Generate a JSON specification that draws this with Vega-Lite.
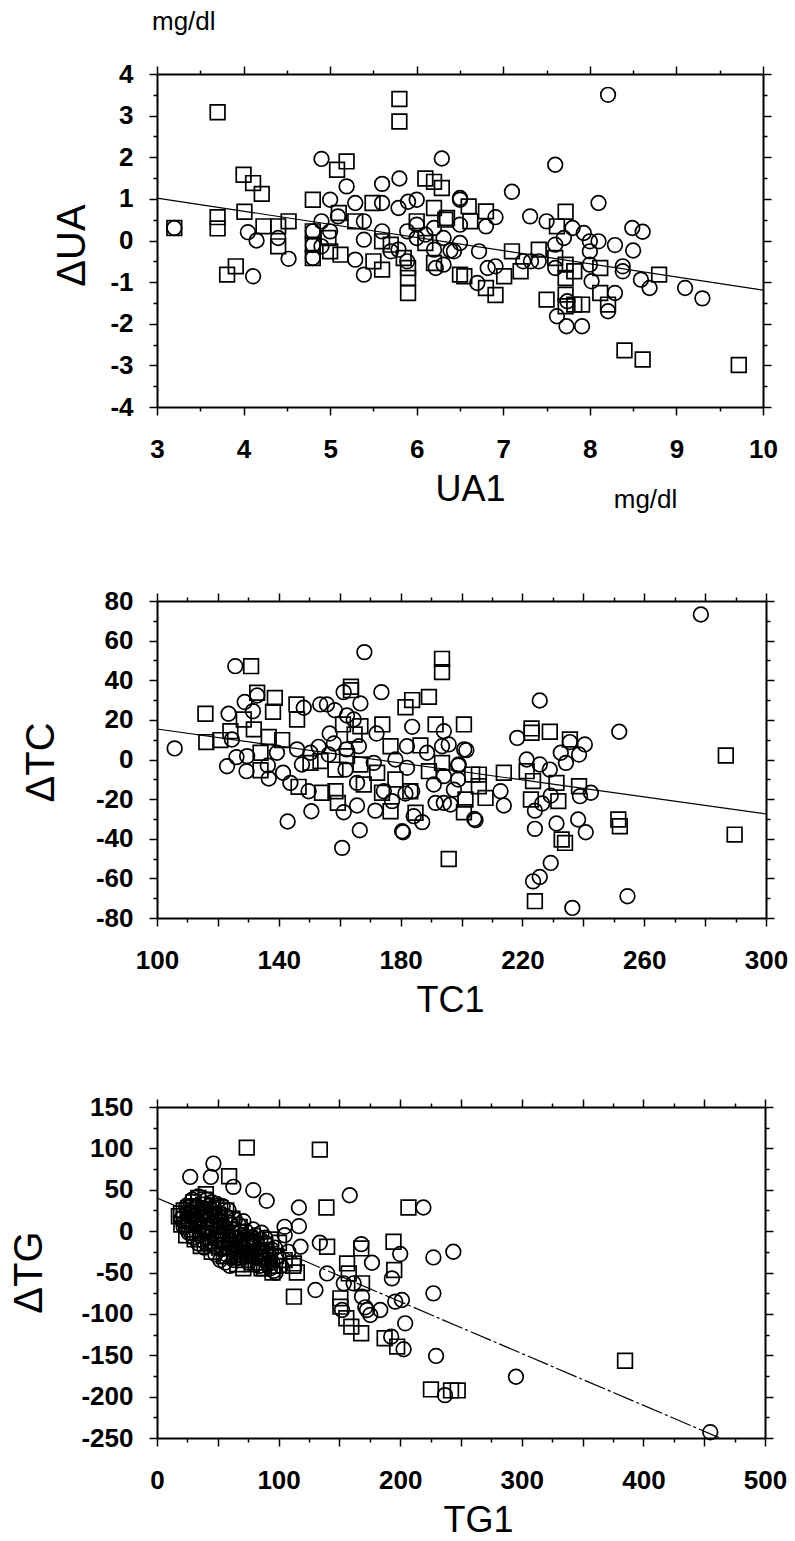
{
"$schema": "https://vega.github.io/schema/vega-lite/v6.json",
"padding": {"left": 9, "top": 9, "right": 5, "bottom": 5},
"columns": 1,
"spacing": 76,
"config": {"view": {"stroke": null}, "font": "Liberation Sans",
 "axis": {"grid": false, "domainColor": "black", "tickColor": "black", "labelColor": "black", "titleColor": "black", "domainWidth": 2, "tickWidth": 1.5, "labelFont": "Liberation Sans", "labelFontWeight": "bold", "labelFontSize": 26, "titleFont": "Liberation Sans", "titleFontWeight": "normal", "labelOverlap": false, "labelFlush": false}},
"datasets": {
 "ua": [
  {"x":3.2,"y":0.3,"g":"c"},{"x":4.9,"y":1.96,"g":"c"},{"x":6.29,"y":1.97,"g":"c"},{"x":5.19,"y":1.3,"g":"c"},{"x":5.6,"y":1.36,"g":"c"},{"x":5.8,"y":1.49,"g":"c"},{"x":5.0,"y":0.98,"g":"c"},{"x":5.29,"y":0.9,"g":"c"},{"x":5.6,"y":0.9,"g":"c"},{"x":5.79,"y":0.78,"g":"c"},{"x":5.9,"y":0.93,"g":"c"},{"x":6.0,"y":0.98,"g":"c"},{"x":4.9,"y":0.46,"g":"c"},{"x":5.09,"y":0.58,"g":"c"},{"x":5.39,"y":0.46,"g":"c"},{"x":6.5,"y":0.98,"g":"c"},{"x":4.05,"y":0.2,"g":"c"},{"x":4.15,"y":0.0,"g":"c"},{"x":4.4,"y":0.06,"g":"c"},{"x":4.52,"y":-0.44,"g":"c"},{"x":4.8,"y":0.22,"g":"c"},{"x":4.8,"y":-0.11,"g":"c"},{"x":4.8,"y":-0.42,"g":"c"},{"x":5.0,"y":0.22,"g":"c"},{"x":4.9,"y":-0.14,"g":"c"},{"x":5.29,"y":-0.46,"g":"c"},{"x":5.39,"y":0.02,"g":"c"},{"x":5.39,"y":-0.82,"g":"c"},{"x":5.6,"y":0.22,"g":"c"},{"x":5.7,"y":-0.26,"g":"c"},{"x":5.79,"y":-0.22,"g":"c"},{"x":5.89,"y":0.22,"g":"c"},{"x":6.0,"y":0.38,"g":"c"},{"x":6.0,"y":0.06,"g":"c"},{"x":5.89,"y":-0.5,"g":"c"},{"x":6.1,"y":0.14,"g":"c"},{"x":6.2,"y":0.3,"g":"c"},{"x":6.2,"y":-0.22,"g":"c"},{"x":6.22,"y":-0.66,"g":"c"},{"x":6.31,"y":0.06,"g":"c"},{"x":6.31,"y":-0.58,"g":"c"},{"x":6.43,"y":-0.26,"g":"c"},{"x":4.11,"y":-0.86,"g":"c"},
  {"x":8.21,"y":3.5,"g":"c"},{"x":7.6,"y":1.82,"g":"c"},{"x":7.1,"y":1.17,"g":"c"},{"x":8.1,"y":0.9,"g":"c"},{"x":6.5,"y":1.02,"g":"c"},{"x":6.91,"y":0.56,"g":"c"},{"x":6.8,"y":0.34,"g":"c"},{"x":6.5,"y":0.38,"g":"c"},{"x":7.31,"y":0.58,"g":"c"},{"x":7.5,"y":0.46,"g":"c"},{"x":7.8,"y":0.3,"g":"c"},{"x":7.93,"y":0.18,"g":"c"},{"x":8.49,"y":0.3,"g":"c"},{"x":8.61,"y":0.21,"g":"c"},{"x":8.0,"y":-0.02,"g":"c"},{"x":8.1,"y":-0.02,"g":"c"},{"x":8.29,"y":-0.11,"g":"c"},{"x":8.5,"y":-0.24,"g":"c"},{"x":6.39,"y":-0.24,"g":"c"},{"x":6.5,"y":-0.06,"g":"c"},{"x":6.72,"y":-0.26,"g":"c"},{"x":6.7,"y":-1.02,"g":"c"},{"x":6.82,"y":-0.66,"g":"c"},{"x":6.91,"y":-0.62,"g":"c"},{"x":7.23,"y":-0.5,"g":"c"},{"x":7.32,"y":-0.5,"g":"c"},{"x":7.41,"y":-0.5,"g":"c"},{"x":7.6,"y":-0.1,"g":"c"},{"x":7.6,"y":-0.66,"g":"c"},{"x":7.7,"y":0.06,"g":"c"},{"x":7.74,"y":-1.46,"g":"c"},{"x":7.62,"y":-1.82,"g":"c"},{"x":7.73,"y":-2.06,"g":"c"},{"x":7.91,"y":-2.06,"g":"c"},{"x":8.0,"y":-0.26,"g":"c"},{"x":8.0,"y":-0.58,"g":"c"},{"x":8.02,"y":-0.98,"g":"c"},{"x":8.29,"y":-1.26,"g":"c"},{"x":8.21,"y":-1.7,"g":"c"},{"x":8.38,"y":-0.62,"g":"c"},{"x":8.38,"y":-0.74,"g":"c"},{"x":8.59,"y":-0.94,"g":"c"},{"x":8.69,"y":-1.14,"g":"c"},{"x":9.1,"y":-1.14,"g":"c"},{"x":9.3,"y":-1.39,"g":"c"},
  {"x":3.7,"y":3.08,"g":"s"},{"x":5.8,"y":3.4,"g":"s"},{"x":5.8,"y":2.86,"g":"s"},{"x":5.19,"y":1.9,"g":"s"},{"x":5.08,"y":1.7,"g":"s"},{"x":4.0,"y":1.58,"g":"s"},{"x":4.11,"y":1.38,"g":"s"},{"x":4.21,"y":1.12,"g":"s"},{"x":6.1,"y":1.49,"g":"s"},{"x":6.2,"y":1.41,"g":"s"},{"x":6.29,"y":1.26,"g":"s"},{"x":4.8,"y":0.98,"g":"s"},{"x":5.49,"y":0.9,"g":"s"},{"x":6.2,"y":0.78,"g":"s"},{"x":4.01,"y":0.69,"g":"s"},{"x":4.52,"y":0.46,"g":"s"},{"x":5.1,"y":0.66,"g":"s"},{"x":5.29,"y":0.46,"g":"s"},{"x":6.0,"y":0.46,"g":"s"},{"x":6.35,"y":0.54,"g":"s"},{"x":3.2,"y":0.3,"g":"s"},{"x":3.7,"y":0.56,"g":"s"},{"x":3.7,"y":0.29,"g":"s"},{"x":4.23,"y":0.34,"g":"s"},{"x":4.4,"y":0.34,"g":"s"},{"x":4.4,"y":-0.14,"g":"s"},{"x":4.8,"y":0.22,"g":"s"},{"x":4.8,"y":-0.1,"g":"s"},{"x":4.8,"y":-0.42,"g":"s"},{"x":4.98,"y":0.06,"g":"s"},{"x":5.0,"y":-0.26,"g":"s"},{"x":5.12,"y":-0.34,"g":"s"},{"x":5.6,"y":-0.02,"g":"s"},{"x":5.5,"y":-0.5,"g":"s"},{"x":5.6,"y":-0.7,"g":"s"},{"x":5.7,"y":-0.1,"g":"s"},{"x":5.85,"y":-0.42,"g":"s"},{"x":5.9,"y":-0.66,"g":"s"},{"x":5.9,"y":-0.9,"g":"s"},{"x":5.9,"y":-1.26,"g":"s"},{"x":6.1,"y":-0.06,"g":"s"},{"x":6.2,"y":-0.54,"g":"s"},{"x":6.5,"y":-0.82,"g":"s"},{"x":3.91,"y":-0.62,"g":"s"},{"x":3.81,"y":-0.82,"g":"s"},
  {"x":6.6,"y":0.82,"g":"s"},{"x":6.8,"y":0.7,"g":"s"},{"x":6.62,"y":0.46,"g":"s"},{"x":6.33,"y":0.5,"g":"s"},{"x":7.72,"y":0.69,"g":"s"},{"x":7.62,"y":0.34,"g":"s"},{"x":6.55,"y":-0.86,"g":"s"},{"x":6.8,"y":-1.14,"g":"s"},{"x":6.91,"y":-1.31,"g":"s"},{"x":7.01,"y":-0.86,"g":"s"},{"x":7.1,"y":-0.26,"g":"s"},{"x":7.2,"y":-0.74,"g":"s"},{"x":7.41,"y":-0.22,"g":"s"},{"x":7.6,"y":-0.42,"g":"s"},{"x":7.72,"y":-0.58,"g":"s"},{"x":7.72,"y":-0.9,"g":"s"},{"x":7.82,"y":-0.74,"g":"s"},{"x":7.72,"y":-1.3,"g":"s"},{"x":7.82,"y":-1.54,"g":"s"},{"x":7.72,"y":-1.58,"g":"s"},{"x":7.91,"y":-1.54,"g":"s"},{"x":7.5,"y":-1.42,"g":"s"},{"x":8.12,"y":-0.66,"g":"s"},{"x":8.12,"y":-1.26,"g":"s"},{"x":8.21,"y":-1.54,"g":"s"},{"x":8.8,"y":-0.82,"g":"s"},{"x":8.4,"y":-2.64,"g":"s"},{"x":8.61,"y":-2.86,"g":"s"},{"x":9.72,"y":-2.99,"g":"s"}
 ],
 "ua_fit": [{"x":3,"y":1.02},{"x":10,"y":-1.19}],
 "tc": [
  {"x":105.8,"y":5.6,"g":"c"},{"x":168.1,"y":54.2,"g":"c"},{"x":125.7,"y":47.1,"g":"c"},{"x":132.9,"y":32.3,"g":"c"},{"x":161.3,"y":34,"g":"c"},{"x":173.7,"y":34,"g":"c"},{"x":128.8,"y":29,"g":"c"},{"x":131.5,"y":24.4,"g":"c"},{"x":123.5,"y":23.1,"g":"c"},{"x":148.2,"y":26.1,"g":"c"},{"x":153.6,"y":27.8,"g":"c"},{"x":155.8,"y":27.8,"g":"c"},{"x":166.8,"y":28.3,"g":"c"},{"x":158.4,"y":24.9,"g":"c"},{"x":162.4,"y":22.2,"g":"c"},{"x":164.6,"y":20.2,"g":"c"},{"x":183.8,"y":16.5,"g":"c"},{"x":194.2,"y":14.3,"g":"c"},{"x":124.6,"y":10.1,"g":"c"},{"x":156.7,"y":13.1,"g":"c"},{"x":158.1,"y":8.1,"g":"c"},{"x":172.1,"y":13.1,"g":"c"},{"x":182.1,"y":6.7,"g":"c"},{"x":188.7,"y":3.4,"g":"c"},{"x":193.6,"y":6.7,"g":"c"},{"x":195.8,"y":7.6,"g":"c"},{"x":201.6,"y":4.7,"g":"c"},{"x":123,"y":-3.4,"g":"c"},{"x":126.1,"y":1.2,"g":"c"},{"x":129.6,"y":1.7,"g":"c"},{"x":129.4,"y":-5.9,"g":"c"},{"x":136.4,"y":-3,"g":"c"},{"x":136.7,"y":-9.6,"g":"c"},{"x":139.4,"y":3.4,"g":"c"},{"x":141.4,"y":-6.7,"g":"c"},{"x":146,"y":5.1,"g":"c"},{"x":143.8,"y":-11.8,"g":"c"},{"x":147.6,"y":-2.5,"g":"c"},{"x":150.4,"y":3.4,"g":"c"},{"x":149.8,"y":-16,"g":"c"},{"x":153.1,"y":6.4,"g":"c"},{"x":156.4,"y":2.5,"g":"c"},{"x":161.9,"y":-5.1,"g":"c"},{"x":162.2,"y":5.1,"g":"c"},{"x":161.3,"y":-26.6,"g":"c"},{"x":166.3,"y":6.7,"g":"c"},{"x":165.7,"y":-11.8,"g":"c"},{"x":165.7,"y":-23.2,"g":"c"},{"x":171.2,"y":-1.7,"g":"c"},{"x":171.7,"y":-25.8,"g":"c"},{"x":174.5,"y":-16,"g":"c"},{"x":177.2,"y":-21,"g":"c"},{"x":178.3,"y":0,"g":"c"},{"x":182.1,"y":-4.2,"g":"c"},{"x":183.8,"y":-16,"g":"c"},{"x":184.3,"y":-28.6,"g":"c"},{"x":187.1,"y":-31.6,"g":"c"},{"x":180.5,"y":-36.2,"g":"c"},{"x":181.6,"y":-17.2,"g":"c"},{"x":190.9,"y":-12.6,"g":"c"},{"x":191.5,"y":-21.9,"g":"c"},{"x":194.2,"y":-8.4,"g":"c"},{"x":194.2,"y":-21.9,"g":"c"},{"x":196.4,"y":-22.7,"g":"c"},{"x":197.5,"y":-15.2,"g":"c"},{"x":199.1,"y":-2.5,"g":"c"},{"x":204.6,"y":-30.6,"g":"c"},{"x":142.9,"y":-31.3,"g":"c"},{"x":150.7,"y":-26.1,"g":"c"},{"x":166.6,"y":-35.7,"g":"c"},{"x":160.8,"y":-44.6,"g":"c"},{"x":180.8,"y":-36.7,"g":"c"},
  {"x":278.6,"y":73.2,"g":"c"},{"x":225.7,"y":29.8,"g":"c"},{"x":200.9,"y":5.1,"g":"c"},{"x":198.9,"y":-3,"g":"c"},{"x":198.9,"y":-10.1,"g":"c"},{"x":204.2,"y":-30,"g":"c"},{"x":212.8,"y":-16,"g":"c"},{"x":213.9,"y":-23.2,"g":"c"},{"x":218.3,"y":10.9,"g":"c"},{"x":221.4,"y":0,"g":"c"},{"x":225.7,"y":-2.5,"g":"c"},{"x":229,"y":-5.1,"g":"c"},{"x":224.1,"y":-25.8,"g":"c"},{"x":226.5,"y":-22.2,"g":"c"},{"x":229.3,"y":-18.2,"g":"c"},{"x":224.1,"y":-35,"g":"c"},{"x":231.2,"y":-32.3,"g":"c"},{"x":238.3,"y":-30.3,"g":"c"},{"x":240.8,"y":-36.7,"g":"c"},{"x":238.9,"y":-18.5,"g":"c"},{"x":242.5,"y":-16.8,"g":"c"},{"x":232.6,"y":3.4,"g":"c"},{"x":234.3,"y":-1.7,"g":"c"},{"x":235.6,"y":8.8,"g":"c"},{"x":238.6,"y":2.5,"g":"c"},{"x":240.5,"y":7.6,"g":"c"},{"x":229.3,"y":-52.2,"g":"c"},{"x":225.7,"y":-59.3,"g":"c"},{"x":223.5,"y":-61.5,"g":"c"},{"x":236.4,"y":-74.9,"g":"c"},{"x":254.5,"y":-69,"g":"c"},{"x":251.8,"y":14,"g":"c"},
  {"x":130.9,"y":47.1,"g":"s"},{"x":193.6,"y":50.8,"g":"s"},{"x":193.6,"y":44.1,"g":"s"},{"x":132.9,"y":33.7,"g":"s"},{"x":138.7,"y":31.1,"g":"s"},{"x":163.7,"y":36.7,"g":"s"},{"x":163.7,"y":35,"g":"s"},{"x":189.3,"y":31.6,"g":"s"},{"x":183.8,"y":30,"g":"s"},{"x":181.6,"y":26.4,"g":"s"},{"x":115.9,"y":23.1,"g":"s"},{"x":138.1,"y":24.1,"g":"s"},{"x":145.8,"y":27.8,"g":"s"},{"x":146,"y":20.2,"g":"s"},{"x":161.1,"y":17.7,"g":"s"},{"x":166.8,"y":16.8,"g":"s"},{"x":174,"y":17.7,"g":"s"},{"x":191.5,"y":17.7,"g":"s"},{"x":200.8,"y":17.7,"g":"s"},{"x":128.5,"y":20.2,"g":"s"},{"x":124.1,"y":14.3,"g":"s"},{"x":131.8,"y":15.2,"g":"s"},{"x":116.2,"y":8.8,"g":"s"},{"x":120.8,"y":9.8,"g":"s"},{"x":136.7,"y":11.4,"g":"s"},{"x":141.1,"y":9.8,"g":"s"},{"x":164.9,"y":12.6,"g":"s"},{"x":176.7,"y":6.7,"g":"s"},{"x":186.5,"y":7.1,"g":"s"},{"x":134,"y":3.4,"g":"s"},{"x":134,"y":-5.4,"g":"s"},{"x":146.5,"y":-13.8,"g":"s"},{"x":150.4,"y":-1.7,"g":"s"},{"x":153.7,"y":-0.8,"g":"s"},{"x":154.2,"y":-16.8,"g":"s"},{"x":158.6,"y":-5.1,"g":"s"},{"x":158.6,"y":-16,"g":"s"},{"x":159.4,"y":-21.9,"g":"s"},{"x":162.4,"y":1.7,"g":"s"},{"x":166.8,"y":-2.5,"g":"s"},{"x":167.9,"y":-12.6,"g":"s"},{"x":172.3,"y":-6.7,"g":"s"},{"x":173.9,"y":-16.8,"g":"s"},{"x":176.7,"y":-26.1,"g":"s"},{"x":178.3,"y":-10.1,"g":"s"},{"x":183.2,"y":-16,"g":"s"},{"x":184.9,"y":-26.9,"g":"s"},{"x":189.3,"y":-5.9,"g":"s"},{"x":193.6,"y":-1.7,"g":"s"},{"x":201.3,"y":-20.2,"g":"s"},{"x":200.8,"y":-26.6,"g":"s"},{"x":195.8,"y":-50.2,"g":"s"},{"x":203.5,"y":-7.6,"g":"s"},
  {"x":205.7,"y":-7.6,"g":"s"},{"x":205.7,"y":-13.5,"g":"s"},{"x":207.9,"y":-19.4,"g":"s"},{"x":213.9,"y":-6.7,"g":"s"},{"x":223,"y":15.7,"g":"s"},{"x":223,"y":13.5,"g":"s"},{"x":229,"y":14,"g":"s"},{"x":221.4,"y":-5.9,"g":"s"},{"x":223.5,"y":-10.9,"g":"s"},{"x":222.8,"y":-20.2,"g":"s"},{"x":231.2,"y":-11.8,"g":"s"},{"x":231.8,"y":-21,"g":"s"},{"x":232.9,"y":-40.4,"g":"s"},{"x":234,"y":-42.1,"g":"s"},{"x":238.6,"y":-13.5,"g":"s"},{"x":235.6,"y":10.1,"g":"s"},{"x":224.1,"y":-71.5,"g":"s"},{"x":251.5,"y":-30.3,"g":"s"},{"x":252,"y":-33.7,"g":"s"},{"x":286.8,"y":2,"g":"s"},{"x":289.7,"y":-37.9,"g":"s"}
 ],
 "tc_fit": [{"x":100,"y":15.4},{"x":300,"y":-27.5}],
 "tg": [
  {"x":46.4,"y":81.6,"g":"c"},{"x":27.3,"y":65.5,"g":"c"},{"x":44.3,"y":65.5,"g":"c"},{"x":62.8,"y":53.5,"g":"c"},{"x":79.2,"y":49.5,"g":"c"},{"x":90.2,"y":36.6,"g":"c"},{"x":158.5,"y":43.4,"g":"c"},{"x":219.1,"y":28.5,"g":"c"},{"x":116.7,"y":28.5,"g":"c"},{"x":32,"y":29.4,"g":"c"},{"x":116.7,"y":6,"g":"c"},{"x":104.9,"y":5.2,"g":"c"},{"x":118,"y":-18.9,"g":"c"},{"x":133.9,"y":-14.1,"g":"c"},{"x":97.5,"y":-50.3,"g":"c"},{"x":130.3,"y":-71.2,"g":"c"},{"x":139.9,"y":-51.1,"g":"c"},{"x":168,"y":-15.7,"g":"c"},{"x":176.8,"y":-38.2,"g":"c"},{"x":200,"y":-27.7,"g":"c"},{"x":227.3,"y":-31.8,"g":"c"},{"x":243.7,"y":-24.9,"g":"c"},{"x":193.2,"y":-57.1,"g":"c"},{"x":227.3,"y":-75.2,"g":"c"},{"x":153.6,"y":-63.1,"g":"c"},{"x":161.7,"y":-63.1,"g":"c"},{"x":168.6,"y":-79.2,"g":"c"},{"x":172.7,"y":-95.3,"g":"c"},{"x":171.3,"y":-92.1,"g":"c"},{"x":183.6,"y":-95.3,"g":"c"},{"x":195.9,"y":-85.2,"g":"c"},{"x":201.4,"y":-83.2,"g":"c"},{"x":204.1,"y":-111.4,"g":"c"},{"x":192.6,"y":-127.5,"g":"c"},{"x":202.8,"y":-142.7,"g":"c"},{"x":229.5,"y":-150.8,"g":"c"},{"x":236.8,"y":-198.2,"g":"c"},{"x":295.2,"y":-176,"g":"c"},{"x":455,"y":-243,"g":"c"},{"x":152.2,"y":-95.3,"g":"c"},{"x":175.4,"y":-101.3,"g":"c"},
  {"x":20,"y":15,"g":"c"},{"x":22,"y":5,"g":"c"},{"x":25,"y":22,"g":"c"},{"x":27,"y":10,"g":"c"},{"x":28,"y":-2,"g":"c"},{"x":30,"y":18,"g":"c"},{"x":32,"y":30,"g":"c"},{"x":33,"y":8,"g":"c"},{"x":35,"y":-5,"g":"c"},{"x":36,"y":20,"g":"c"},{"x":38,"y":12,"g":"c"},{"x":38,"y":-12,"g":"c"},{"x":40,"y":25,"g":"c"},{"x":41,"y":3,"g":"c"},{"x":42,"y":-8,"g":"c"},{"x":43,"y":15,"g":"c"},{"x":45,"y":35,"g":"c"},{"x":45,"y":-3,"g":"c"},{"x":46,"y":8,"g":"c"},{"x":47,"y":-18,"g":"c"},{"x":48,"y":20,"g":"c"},{"x":50,"y":0,"g":"c"},{"x":50,"y":-10,"g":"c"},{"x":52,"y":12,"g":"c"},{"x":53,"y":-22,"g":"c"},{"x":55,"y":5,"g":"c"},{"x":55,"y":-15,"g":"c"},{"x":57,"y":-28,"g":"c"},{"x":58,"y":-5,"g":"c"},{"x":60,"y":-12,"g":"c"},{"x":60,"y":10,"g":"c"},{"x":62,"y":-20,"g":"c"},{"x":63,"y":-35,"g":"c"},{"x":65,"y":-8,"g":"c"},{"x":66,"y":-25,"g":"c"},{"x":68,"y":-15,"g":"c"},{"x":70,"y":-30,"g":"c"},{"x":70,"y":-5,"g":"c"},{"x":72,"y":-20,"g":"c"},{"x":74,"y":-12,"g":"c"},{"x":75,"y":-38,"g":"c"},{"x":77,"y":-25,"g":"c"},{"x":78,"y":-8,"g":"c"},{"x":80,"y":-18,"g":"c"},{"x":82,"y":-30,"g":"c"},{"x":84,"y":-42,"g":"c"},{"x":85,"y":-10,"g":"c"},{"x":87,"y":-22,"g":"c"},{"x":88,"y":-35,"g":"c"},{"x":90,"y":-15,"g":"c"},{"x":92,"y":-28,"g":"c"},{"x":93,"y":-45,"g":"c"},{"x":95,"y":-38,"g":"c"},{"x":97,"y":-20,"g":"c"},{"x":100,"y":-30,"g":"c"},{"x":102,"y":-42,"g":"c"},{"x":105,"y":-5,"g":"c"},{"x":108,"y":-25,"g":"c"},
  {"x":24,"y":30,"g":"c"},{"x":29,"y":38,"g":"c"},{"x":34,"y":42,"g":"c"},{"x":37,"y":28,"g":"c"},{"x":41,"y":38,"g":"c"},{"x":44,"y":27,"g":"c"},{"x":49,"y":33,"g":"c"},{"x":51,"y":22,"g":"c"},{"x":54,"y":30,"g":"c"},{"x":57,"y":18,"g":"c"},{"x":59,"y":25,"g":"c"},{"x":62,"y":2,"g":"c"},{"x":64,"y":14,"g":"c"},{"x":67,"y":8,"g":"c"},{"x":69,"y":-12,"g":"c"},{"x":71,"y":12,"g":"c"},{"x":73,"y":0,"g":"c"},{"x":76,"y":-15,"g":"c"},{"x":79,"y":2,"g":"c"},{"x":81,"y":-5,"g":"c"},{"x":83,"y":-22,"g":"c"},{"x":86,"y":-2,"g":"c"},{"x":89,"y":-8,"g":"c"},{"x":91,"y":-40,"g":"c"},{"x":94,"y":-22,"g":"c"},{"x":96,"y":-48,"g":"c"},{"x":39,"y":-20,"g":"c"},{"x":44,"y":-15,"g":"c"},{"x":48,"y":-28,"g":"c"},{"x":34,"y":-15,"g":"c"},{"x":30,"y":-8,"g":"c"},{"x":26,"y":-2,"g":"c"},{"x":52,"y":-35,"g":"c"},{"x":56,"y":-38,"g":"c"},{"x":60,"y":-42,"g":"c"},{"x":23,"y":12,"g":"c"},{"x":31,"y":14,"g":"c"},{"x":47,"y":28,"g":"c"},
  {"x":73.8,"y":100.9,"g":"s"},{"x":133.9,"y":98.5,"g":"s"},{"x":59.3,"y":66.3,"g":"s"},{"x":40.2,"y":44.6,"g":"s"},{"x":139.3,"y":28.5,"g":"s"},{"x":206.8,"y":28.5,"g":"s"},{"x":27.9,"y":29.4,"g":"s"},{"x":19.7,"y":21.3,"g":"s"},{"x":139.9,"y":-18.9,"g":"s"},{"x":100.3,"y":-14.1,"g":"s"},{"x":112.6,"y":-79.2,"g":"s"},{"x":168,"y":-20.9,"g":"s"},{"x":194.5,"y":-12.9,"g":"s"},{"x":195.1,"y":-47,"g":"s"},{"x":156.3,"y":-39,"g":"s"},{"x":157.7,"y":-51.1,"g":"s"},{"x":150.8,"y":-81.2,"g":"s"},{"x":150.8,"y":-91.3,"g":"s"},{"x":168.6,"y":-63.1,"g":"s"},{"x":155.7,"y":-105.3,"g":"s"},{"x":159.8,"y":-115.4,"g":"s"},{"x":167.9,"y":-123.4,"g":"s"},{"x":187.2,"y":-129.5,"g":"s"},{"x":197.5,"y":-139.5,"g":"s"},{"x":225.3,"y":-191.3,"g":"s"},{"x":241.8,"y":-192.5,"g":"s"},{"x":247.3,"y":-192.5,"g":"s"},{"x":384.9,"y":-156.7,"g":"s"},{"x":112.6,"y":-39,"g":"s"},
  {"x":18,"y":18,"g":"s"},{"x":20,"y":8,"g":"s"},{"x":22,"y":25,"g":"s"},{"x":24,"y":-5,"g":"s"},{"x":26,"y":14,"g":"s"},{"x":28,"y":30,"g":"s"},{"x":30,"y":2,"g":"s"},{"x":31,"y":-10,"g":"s"},{"x":33,"y":22,"g":"s"},{"x":35,"y":12,"g":"s"},{"x":36,"y":-18,"g":"s"},{"x":38,"y":32,"g":"s"},{"x":40,"y":5,"g":"s"},{"x":42,"y":-15,"g":"s"},{"x":44,"y":20,"g":"s"},{"x":45,"y":-25,"g":"s"},{"x":47,"y":10,"g":"s"},{"x":49,"y":-5,"g":"s"},{"x":51,"y":-20,"g":"s"},{"x":52,"y":28,"g":"s"},{"x":54,"y":-10,"g":"s"},{"x":56,"y":15,"g":"s"},{"x":58,"y":-30,"g":"s"},{"x":59,"y":-18,"g":"s"},{"x":61,"y":2,"g":"s"},{"x":63,"y":-8,"g":"s"},{"x":64,"y":-28,"g":"s"},{"x":66,"y":-40,"g":"s"},{"x":68,"y":5,"g":"s"},{"x":70,"y":-18,"g":"s"},{"x":72,"y":-35,"g":"s"},{"x":74,"y":-25,"g":"s"},{"x":76,"y":-8,"g":"s"},{"x":78,"y":-40,"g":"s"},{"x":80,"y":-28,"g":"s"},{"x":82,"y":-15,"g":"s"},{"x":85,"y":-32,"g":"s"},{"x":88,"y":-45,"g":"s"},{"x":90,"y":-25,"g":"s"},{"x":95,"y":-50,"g":"s"},{"x":98,"y":-30,"g":"s"},{"x":105,"y":-35,"g":"s"},{"x":112,"y":-42,"g":"s"},{"x":115,"y":-50,"g":"s"},
  {"x":22,"y":15,"g":"s"},{"x":26,"y":28,"g":"s"},{"x":30,"y":35,"g":"s"},{"x":34,"y":40,"g":"s"},{"x":37,"y":6,"g":"s"},{"x":40,"y":38,"g":"s"},{"x":43,"y":2,"g":"s"},{"x":46,"y":30,"g":"s"},{"x":48,"y":-12,"g":"s"},{"x":50,"y":20,"g":"s"},{"x":53,"y":5,"g":"s"},{"x":55,"y":-30,"g":"s"},{"x":57,"y":25,"g":"s"},{"x":60,"y":-20,"g":"s"},{"x":62,"y":15,"g":"s"},{"x":65,"y":-15,"g":"s"},{"x":67,"y":-32,"g":"s"},{"x":69,"y":-2,"g":"s"},{"x":71,"y":-45,"g":"s"},{"x":73,"y":-10,"g":"s"},{"x":75,"y":-30,"g":"s"},{"x":77,"y":-18,"g":"s"},{"x":79,"y":-12,"g":"s"},{"x":81,"y":-38,"g":"s"},{"x":84,"y":-25,"g":"s"},{"x":86,"y":-45,"g":"s"},{"x":89,"y":-18,"g":"s"},{"x":92,"y":-35,"g":"s"},{"x":94,"y":-10,"g":"s"},{"x":97,"y":-42,"g":"s"},{"x":25,"y":8,"g":"s"},{"x":29,"y":20,"g":"s"},{"x":33,"y":-2,"g":"s"},{"x":39,"y":15,"g":"s"},{"x":42,"y":25,"g":"s"}
 ],
 "tg_fit": [{"x":0,"y":40},{"x":463,"y":-250}]
},
"concat": [
 {
  "width": 606, "height": 333,
  "title": {"text": "mg/dl", "anchor": "start", "frame": "group", "fontSize": 26, "fontWeight": "normal", "font": "Liberation Sans", "offset": 26, "dx": -5, "color": "black"},
  "resolve": {"axis": {"x": "independent", "y": "independent"}},
  "layer": [
   {"data": {"name": "ua"}, "transform": [{"filter": "datum.g == 'c'"}],
    "mark": {"type": "point", "shape": "circle", "filled": false, "color": "black", "size": 215, "strokeWidth": 1.7, "opacity": 1},
    "encoding": {
     "x": {"field": "x", "type": "quantitative", "scale": {"domain": [3, 10], "nice": false, "zero": false},
      "axis": {"orient": "bottom", "values": [3,4,5,6,7,8,9,10], "tickSize": 8, "labelPadding": 34, "labelBaseline": "middle", "title": "UA1", "titleFontSize": 36, "titleX": 313, "titleY": 82, "titleAlign": "center", "titleBaseline": "middle"}},
     "y": {"field": "y", "type": "quantitative", "scale": {"domain": [-4, 4], "nice": false, "zero": false},
      "axis": {"orient": "left", "values": [-4,-3,-2,-1,0,1,2,3,4], "tickSize": 8, "labelPadding": 16, "labelExpr": "datum.value < 0 ? '-' + (-datum.value) : '' + datum.value", "title": "ΔUA", "titleFontSize": 40, "titleX": -85, "titleY": 171, "titleAngle": 270, "titleAlign": "center", "titleBaseline": "middle"}}
    }},
   {"data": {"name": "ua"}, "transform": [{"filter": "datum.g == 's'"}],
    "mark": {"type": "point", "shape": "square", "filled": false, "color": "black", "size": 215, "strokeWidth": 1.7, "opacity": 1},
    "encoding": {
     "x": {"field": "x", "type": "quantitative", "scale": {"domain": [3, 10], "nice": false, "zero": false},
      "axis": {"orient": "bottom", "values": [3.5,4.5,5.5,6.5,7.5,8.5,9.5], "tickSize": 4, "labels": false, "domain": false, "title": null}},
     "y": {"field": "y", "type": "quantitative", "scale": {"domain": [-4, 4], "nice": false, "zero": false},
      "axis": {"orient": "left", "values": [-3.5,-2.5,-1.5,-0.5,0.5,1.5,2.5,3.5], "tickSize": 4, "labels": false, "domain": false, "title": null}}
    }},
   {"data": {"name": "ua_fit"},
    "mark": {"type": "line", "color": "black", "strokeWidth": 1.2},
    "encoding": {
     "x": {"field": "x", "type": "quantitative", "scale": {"domain": [3, 10], "nice": false, "zero": false},
      "axis": {"orient": "top", "values": [3,4,5,6,7,8,9,10], "tickSize": 8, "labels": false, "title": null}},
     "y": {"field": "y", "type": "quantitative", "scale": {"domain": [-4, 4], "nice": false, "zero": false},
      "axis": {"orient": "right", "values": [-4,-3,-2,-1,0,1,2,3,4], "tickSize": 8, "labels": false, "title": null}}
    }},
   {"mark": {"type": "rule", "color": "black", "strokeWidth": 1.2, "strokeDash": [2, 2]},
    "encoding": {
     "x": {"datum": 3, "type": "quantitative", "scale": {"domain": [3, 10], "nice": false, "zero": false},
      "axis": {"orient": "top", "values": [3.5,4.5,5.5,6.5,7.5,8.5,9.5], "tickSize": 4, "labels": false, "domain": false, "title": "mg/dl", "titleFontSize": 26, "titleX": 488, "titleY": 425, "titleAlign": "center", "titleBaseline": "middle"}},
     "x2": {"datum": 10},
     "y": {"datum": 0, "type": "quantitative", "scale": {"domain": [-4, 4], "nice": false, "zero": false},
      "axis": {"orient": "right", "values": [-3.5,-2.5,-1.5,-0.5,0.5,1.5,2.5,3.5], "tickSize": 4, "labels": false, "domain": false, "title": null}}
    }}
  ]
 },
 {
  "width": 609, "height": 317,
  "resolve": {"axis": {"x": "independent", "y": "independent"}},
  "layer": [
   {"data": {"name": "tc"}, "transform": [{"filter": "datum.g == 'c'"}],
    "mark": {"type": "point", "shape": "circle", "filled": false, "color": "black", "size": 215, "strokeWidth": 1.7, "opacity": 1},
    "encoding": {
     "x": {"field": "x", "type": "quantitative", "scale": {"domain": [100, 300], "nice": false, "zero": false},
      "axis": {"orient": "bottom", "values": [100,120,140,160,180,200,220,240,260,280,300], "tickSize": 8, "labelPadding": 34, "labelBaseline": "middle", "labelExpr": "(datum.value - 100) % 40 == 0 ? '' + datum.value : ''", "title": "TC1", "titleFontSize": 36, "titleX": 293, "titleY": 82, "titleAlign": "center", "titleBaseline": "middle"}},
     "y": {"field": "y", "type": "quantitative", "scale": {"domain": [-80, 80], "nice": false, "zero": false},
      "axis": {"orient": "left", "values": [-80,-60,-40,-20,0,20,40,60,80], "tickSize": 8, "labelPadding": 16, "labelExpr": "datum.value < 0 ? '-' + (-datum.value) : '' + datum.value", "title": "ΔTC", "titleFontSize": 40, "titleX": -116, "titleY": 161, "titleAngle": 270, "titleAlign": "center", "titleBaseline": "middle"}}
    }},
   {"data": {"name": "tc"}, "transform": [{"filter": "datum.g == 's'"}],
    "mark": {"type": "point", "shape": "square", "filled": false, "color": "black", "size": 215, "strokeWidth": 1.7, "opacity": 1},
    "encoding": {
     "x": {"field": "x", "type": "quantitative", "scale": {"domain": [100, 300], "nice": false, "zero": false},
      "axis": {"orient": "bottom", "values": [110,130,150,170,190,210,230,250,270,290], "tickSize": 4, "labels": false, "domain": false, "title": null}},
     "y": {"field": "y", "type": "quantitative", "scale": {"domain": [-80, 80], "nice": false, "zero": false},
      "axis": {"orient": "left", "values": [-70,-50,-30,-10,10,30,50,70], "tickSize": 4, "labels": false, "domain": false, "title": null}}
    }},
   {"data": {"name": "tc_fit"},
    "mark": {"type": "line", "color": "black", "strokeWidth": 1.2},
    "encoding": {
     "x": {"field": "x", "type": "quantitative", "scale": {"domain": [100, 300], "nice": false, "zero": false},
      "axis": {"orient": "top", "values": [100,120,140,160,180,200,220,240,260,280,300], "tickSize": 8, "labels": false, "title": null}},
     "y": {"field": "y", "type": "quantitative", "scale": {"domain": [-80, 80], "nice": false, "zero": false},
      "axis": {"orient": "right", "values": [-80,-60,-40,-20,0,20,40,60,80], "tickSize": 8, "labels": false, "title": null}}
    }},
   {"mark": {"type": "rule", "color": "black", "strokeWidth": 1.2, "strokeDash": [2, 2]},
    "encoding": {
     "x": {"datum": 100, "type": "quantitative", "scale": {"domain": [100, 300], "nice": false, "zero": false},
      "axis": {"orient": "top", "values": [110,130,150,170,190,210,230,250,270,290], "tickSize": 4, "labels": false, "domain": false, "title": null}},
     "x2": {"datum": 300},
     "y": {"datum": 0, "type": "quantitative", "scale": {"domain": [-80, 80], "nice": false, "zero": false},
      "axis": {"orient": "right", "values": [-70,-50,-30,-10,10,30,50,70], "tickSize": 4, "labels": false, "domain": false, "title": null}}
    }}
  ]
 },
 {
  "width": 608, "height": 331,
  "resolve": {"axis": {"x": "independent", "y": "independent"}},
  "layer": [
   {"data": {"name": "tg"}, "transform": [{"filter": "datum.g == 'c'"}],
    "mark": {"type": "point", "shape": "circle", "filled": false, "color": "black", "size": 215, "strokeWidth": 1.7, "opacity": 1},
    "encoding": {
     "x": {"field": "x", "type": "quantitative", "scale": {"domain": [0, 500], "nice": false, "zero": false},
      "axis": {"orient": "bottom", "values": [0,50,100,150,200,250,300,350,400,450,500], "tickSize": 8, "labelPadding": 34, "labelBaseline": "middle", "labelExpr": "datum.value % 100 == 0 ? '' + datum.value : ''", "title": "TG1", "titleFontSize": 36, "titleX": 321, "titleY": 82, "titleAlign": "center", "titleBaseline": "middle"}},
     "y": {"field": "y", "type": "quantitative", "scale": {"domain": [-250, 150], "nice": false, "zero": false},
      "axis": {"orient": "left", "values": [-250,-200,-150,-100,-50,0,50,100,150], "tickSize": 8, "labelPadding": 16, "labelExpr": "datum.value < 0 ? '-' + (-datum.value) : '' + datum.value", "title": "ΔTG", "titleFontSize": 40, "titleX": -128, "titleY": 165, "titleAngle": 270, "titleAlign": "center", "titleBaseline": "middle"}}
    }},
   {"data": {"name": "tg"}, "transform": [{"filter": "datum.g == 's'"}],
    "mark": {"type": "point", "shape": "square", "filled": false, "color": "black", "size": 215, "strokeWidth": 1.7, "opacity": 1},
    "encoding": {
     "x": {"field": "x", "type": "quantitative", "scale": {"domain": [0, 500], "nice": false, "zero": false},
      "axis": {"orient": "bottom", "values": [25,75,125,175,225,275,325,375,425,475], "tickSize": 4, "labels": false, "domain": false, "title": null}},
     "y": {"field": "y", "type": "quantitative", "scale": {"domain": [-250, 150], "nice": false, "zero": false},
      "axis": {"orient": "left", "values": [-225,-175,-125,-75,-25,25,75,125], "tickSize": 4, "labels": false, "domain": false, "title": null}}
    }},
   {"data": {"name": "tg_fit"},
    "mark": {"type": "line", "color": "black", "strokeWidth": 1.2, "strokeDash": [22, 3, 3, 3]},
    "encoding": {
     "x": {"field": "x", "type": "quantitative", "scale": {"domain": [0, 500], "nice": false, "zero": false},
      "axis": {"orient": "top", "values": [0,50,100,150,200,250,300,350,400,450,500], "tickSize": 8, "labels": false, "title": null}},
     "y": {"field": "y", "type": "quantitative", "scale": {"domain": [-250, 150], "nice": false, "zero": false},
      "axis": {"orient": "right", "values": [-250,-200,-150,-100,-50,0,50,100,150], "tickSize": 8, "labels": false, "title": null}}
    }},
   {"mark": {"type": "rule", "color": "black", "strokeWidth": 1.2, "strokeDash": [2, 3]},
    "encoding": {
     "x": {"datum": 0, "type": "quantitative", "scale": {"domain": [0, 500], "nice": false, "zero": false},
      "axis": {"orient": "top", "values": [25,75,125,175,225,275,325,375,425,475], "tickSize": 4, "labels": false, "domain": false, "title": null}},
     "x2": {"datum": 500},
     "y": {"datum": 0, "type": "quantitative", "scale": {"domain": [-250, 150], "nice": false, "zero": false},
      "axis": {"orient": "right", "values": [-225,-175,-125,-75,-25,25,75,125], "tickSize": 4, "labels": false, "domain": false, "title": null}}
    }}
  ]
 }
]
}
